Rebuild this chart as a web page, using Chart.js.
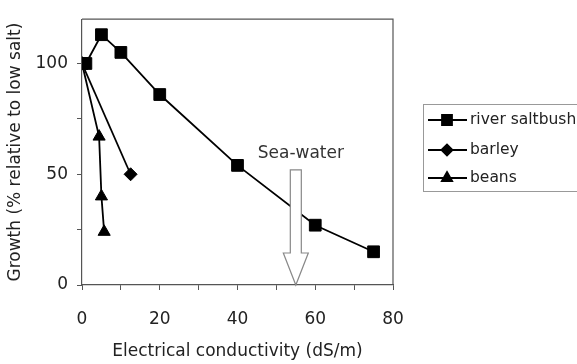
<!DOCTYPE html>
<html><head><meta charset="utf-8">
<script src="https://cdn.jsdelivr.net/npm/chart.js@4/dist/chart.umd.min.js"></script>
<style>html,body{margin:0;padding:0;background:#fff}</style>
</head><body>
<canvas id="c" width="577" height="364" style="width:577px;height:364px;display:block"></canvas>
<script>
// ---- data ----
const seriesNames = ['river saltbush', 'barley', 'beans'];
const saltbushX = [0, 1, 5, 10, 20, 40, 60, 75];
const saltbushY = [100, 100, 113, 105, 86, 54, 27, 15];
const barleyX = [0, 12.5];
const barleyY = [100, 50];
const beansX = [0, 4.4, 5, 5.7];
const beansY = [100, 67, 40, 24];
const xTickValues = [0, 10, 20, 30, 40, 50, 60, 70, 80];
const xTickLabels = [0, 20, 40, 60, 80];
const yTickValues = [0, 25, 50, 75, 100];
const yTickLabels = [0, 50, 100];
const xTitle = 'Electrical conductivity (dS/m)';
const yTitle = 'Growth (% relative to low salt)';
const seaWaterLabel = 'Sea-water';
const seaWaterX = 55;
const seaWaterTop = 52;
const seaWaterLabelX = 56.3;
const seaWaterLabelY = 59.5;

const FONT = '"DejaVu Sans", Verdana, sans-serif';
const TXT = '#222';
const AX = '#555';

const pts = (xs, ys) => xs.map((x, i) => ({ x: x, y: ys[i] }));
const styles = [
  { pointStyle: 'rect', radius: 8.3 },
  { pointStyle: 'rectRot', radius: 6.5 },
  { pointStyle: 'triangle', radius: 7 }
];
const dataSets = [pts(saltbushX, saltbushY), pts(barleyX, barleyY), pts(beansX, beansY)];

const framePlugin = {
  id: 'frame',
  beforeDatasetsDraw(chart) {
    const { ctx, chartArea: a } = chart;
    ctx.save();
    ctx.strokeStyle = AX; ctx.lineWidth = 1.2;
    ctx.beginPath();
    ctx.moveTo(a.left, a.top); ctx.lineTo(a.right, a.top); ctx.lineTo(a.right, a.bottom);
    ctx.stroke();
    ctx.restore();
  }
};

const seaPlugin = {
  id: 'sea',
  afterDatasetsDraw(chart) {
    const { ctx } = chart;
    const xs = chart.scales.x, ys = chart.scales.y;
    const cx = xs.getPixelForValue(seaWaterX);
    const top = ys.getPixelForValue(seaWaterTop);
    const tip = ys.getPixelForValue(0);
    const sw = 5.5, hw = 12.5, hl = 32;
    ctx.save();
    ctx.beginPath();
    ctx.moveTo(cx - sw, top);
    ctx.lineTo(cx + sw, top);
    ctx.lineTo(cx + sw, tip - hl);
    ctx.lineTo(cx + hw, tip - hl);
    ctx.lineTo(cx, tip);
    ctx.lineTo(cx - hw, tip - hl);
    ctx.lineTo(cx - sw, tip - hl);
    ctx.closePath();
    ctx.fillStyle = '#fff'; ctx.fill();
    ctx.strokeStyle = '#888'; ctx.lineWidth = 1.2; ctx.stroke();
    ctx.fillStyle = '#333';
    ctx.font = '17px ' + FONT;
    ctx.textAlign = 'center'; ctx.textBaseline = 'middle';
    ctx.fillText(seaWaterLabel, xs.getPixelForValue(seaWaterLabelX), ys.getPixelForValue(seaWaterLabelY));
    ctx.restore();
  }
};

const legendPlugin = {
  id: 'boxLegend',
  afterDraw(chart) {
    const { ctx } = chart;
    const left = 423, top = 104, bottom = 191;
    const rowsY = [120, 150, 178];
    ctx.save();
    ctx.fillStyle = '#fff';
    ctx.fillRect(left, top, 200, bottom - top);
    ctx.strokeStyle = '#999'; ctx.lineWidth = 1;
    ctx.strokeRect(left + 0.5, top + 0.5, 200, bottom - top);
    seriesNames.forEach((name, i) => {
      const y = rowsY[i];
      ctx.strokeStyle = '#000'; ctx.lineWidth = 1.8;
      ctx.beginPath(); ctx.moveTo(428, y); ctx.lineTo(467, y); ctx.stroke();
      ctx.fillStyle = '#000';
      Chart.helpers.drawPoint(ctx, { pointStyle: styles[i].pointStyle, radius: styles[i].radius * 0.85, rotation: 0, borderWidth: 1 }, 447, y);
      ctx.fill();
      ctx.fillStyle = TXT;
      ctx.font = '15.5px ' + FONT;
      ctx.textAlign = 'left'; ctx.textBaseline = 'middle';
      ctx.fillText(name, 470, y);
    });
    ctx.restore();
  }
};

new Chart(document.getElementById('c'), {
  type: 'scatter',
  data: {
    datasets: dataSets.map((d, i) => ({
      label: seriesNames[i],
      data: d,
      showLine: true,
      borderColor: '#000',
      backgroundColor: '#000',
      borderWidth: 1.8,
      pointStyle: styles[i].pointStyle,
      pointRadius: styles[i].radius,
      pointHoverRadius: styles[i].radius,
      pointBackgroundColor: '#000',
      pointBorderColor: '#000',
      pointBorderWidth: 1,
      tension: 0
    }))
  },
  options: {
    responsive: false,
    animation: false,
    devicePixelRatio: 1,
    layout: { padding: { left: 0, top: 7, right: 184, bottom: 0 } },
    plugins: { legend: { display: false }, tooltip: { enabled: false } },
    scales: {
      x: {
        type: 'linear', min: 0, max: 80,
        afterBuildTicks(s) { s.ticks = xTickValues.map(v => ({ value: v })); },
        afterFit(s) { s.height = 79; },
        ticks: {
          autoSkip: false, maxRotation: 0, padding: 19, color: TXT,
          font: { family: FONT, size: 17 },
          callback: v => xTickLabels.includes(v) ? String(v) : ''
        },
        grid: { drawOnChartArea: false, drawTicks: true, tickLength: 5, color: AX, tickWidth: 1 },
        border: { color: AX, width: 1.2 },
        title: { display: true, text: xTitle, color: TXT, font: { family: FONT, size: 17 }, padding: { top: 0, bottom: 2 } }
      },
      y: {
        type: 'linear', min: 0, max: 120,
        afterBuildTicks(s) { s.ticks = yTickValues.map(v => ({ value: v })); },
        afterFit(s) { s.width = 82; },
        ticks: {
          autoSkip: false, padding: 9, color: TXT,
          font: { family: FONT, size: 17 },
          callback: v => yTickLabels.includes(v) ? String(v) : ''
        },
        grid: { drawOnChartArea: false, drawTicks: true, tickLength: 5, color: AX, tickWidth: 1 },
        border: { color: AX, width: 1.2 },
        title: { display: true, text: yTitle, color: TXT, font: { family: FONT, size: 17 }, padding: { top: 5, bottom: 0 } }
      }
    }
  },
  plugins: [framePlugin, seaPlugin, legendPlugin]
});
</script>
</body></html>
